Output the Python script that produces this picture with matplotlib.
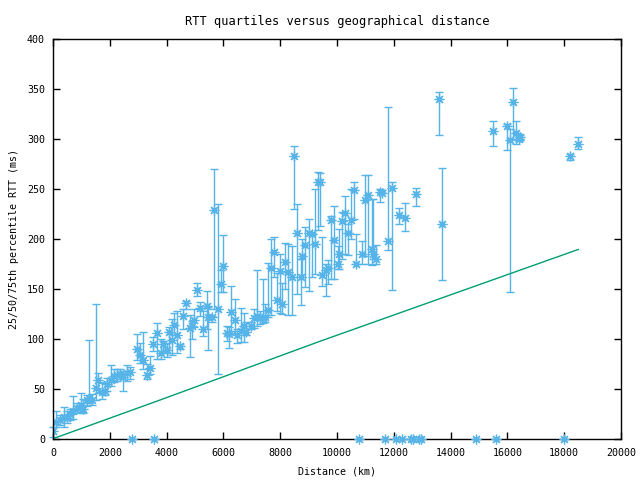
import matplotlib
matplotlib.use("Agg")
import matplotlib.pyplot as plt
import numpy as np

# distance (km), median RTT, 25th and 75th percentile RTT (ms)
dist = [0, 106, 246, 387, 493, 599, 715, 856, 975, 1067, 1187, 1278, 1384, 1503, 1595,
        1715, 1831, 1912, 2032, 2148, 2253, 2359, 2454, 2595, 2711, 2968, 3063, 3179, 3299,
        3415, 3510, 3672, 3792, 3884, 4003, 4095, 4179, 4260, 4377, 4472, 4567, 4683, 4824,
        4884, 4965, 5081, 5176, 5292, 5412, 5468, 5588, 5669, 5799, 5905, 5996, 6137, 6208,
        6257, 6408, 6468, 6609, 6725, 6785, 6961, 7077, 7193, 7288, 7405, 7465, 7581, 7676,
        7781, 7876, 7993, 8053, 8169, 8285, 8405, 8496, 8602, 8722, 8778, 8884, 9014, 9109,
        9225, 9341, 9412, 9482, 9602, 9693, 9788, 9905, 10024, 10081, 10186, 10281, 10398,
        10493, 10598, 10679, 10869, 10986, 11102, 11221, 11278, 11384, 11514, 11595, 11806,
        11947, 12193, 12394, 12781, 13602, 13707, 15503, 15996, 16091, 16207, 16302, 16408,
        16443, 18214, 18496]
rtt_med = [8, 17, 19, 22, 21, 25, 28, 31, 34, 30, 39, 41, 39, 51, 59,
           47, 48, 55, 59, 63, 64, 65, 62, 66, 67, 90, 84, 79, 64,
           71, 95, 106, 86, 95, 89, 107, 99, 114, 104, 93, 123, 136, 111,
           113, 119, 149, 131, 110, 133, 122, 122, 229, 130, 155, 173, 106, 105,
           127, 119, 104, 108, 113, 107, 113, 121, 123, 121, 121, 122, 129, 171,
           187, 139, 168, 135, 177, 167, 162, 283, 206, 162, 183, 194, 206, 205,
           195, 257, 257, 164, 169, 171, 219, 199, 175, 185, 218, 226, 206,
           219, 249, 175, 185, 239, 244, 190, 185, 180, 247, 246, 198,
           251, 224, 221, 245, 340, 215, 308, 313, 299, 337, 306, 300,
           302, 283, 295]
rtt_q25 = [2, 12, 14, 12, 16, 19, 20, 26, 27, 26, 33, 36, 34, 39, 46,
           40, 44, 48, 53, 57, 58, 60, 48, 58, 60, 79, 76, 70, 60,
           65, 88, 80, 80, 88, 82, 86, 84, 104, 86, 90, 110, 130, 82,
           100, 112, 143, 123, 103, 110, 89, 117, 130, 65, 147, 147, 98, 91,
           108, 106, 96, 97, 97, 104, 110, 111, 113, 115, 116, 117, 122, 124,
           162, 128, 126, 125, 150, 124, 124, 230, 145, 134, 162, 152, 148, 162,
           165, 209, 213, 153, 143, 155, 160, 160, 170, 170, 180, 185, 184,
           200, 220, 175, 175, 183, 175, 174, 180, 175, 237, 246, 189,
           149, 215, 208, 233, 304, 159, 293, 289, 147, 300, 295, 298,
           299, 279, 290]
rtt_q75 = [12, 28, 24, 32, 28, 30, 43, 36, 46, 40, 44, 99, 45, 135, 66,
           56, 57, 61, 74, 70, 70, 70, 68, 74, 72, 105, 96, 107, 75,
           83, 102, 116, 100, 98, 96, 112, 120, 126, 128, 95, 130, 138, 124,
           118, 130, 156, 137, 128, 148, 132, 123, 270, 235, 169, 204, 113, 112,
           153, 140, 110, 131, 126, 117, 117, 130, 169, 128, 160, 135, 176, 200,
           202, 166, 185, 156, 196, 195, 193, 293, 235, 180, 200, 212, 220, 206,
           250, 267, 266, 202, 175, 179, 223, 233, 193, 210, 227, 243, 215,
           250, 257, 205, 198, 264, 264, 240, 240, 194, 250, 249, 332,
           257, 231, 236, 251, 347, 271, 318, 315, 310, 351, 318, 305,
           304, 285, 302]

# pairs with no RTT measurement, drawn on the x axis
zero_dist = [2792, 3567, 10785, 11700, 12077, 12278, 12595, 12687, 12898, 12958,
             14895, 15598, 17992]

# lower bound from propagation delay
bound_dist = [0, 3767, 9400, 18496]
bound_rtt = [0, 38.7, 97.5, 189.4]

blue = '#56B4E9'
green = '#009E73'

plt.rcParams['font.family'] = ['DejaVu Sans Mono']
plt.rcParams['font.size'] = 7.2

fig = plt.figure(figsize=(6.4, 4.8), dpi=100)
ax = fig.add_axes([53 / 640, 1 - 438.7 / 480, 568 / 640, 399.7 / 480])

med = np.array(rtt_med)
yerr = [med - np.array(rtt_q25), np.array(rtt_q75) - med]
ax.errorbar(dist, rtt_med, yerr=yerr, fmt='none', ecolor=blue, elinewidth=1,
            capsize=3, capthick=1, clip_on=False)
ax.plot(dist, rtt_med, ls='none', marker=(8, 2, 0), ms=7, mew=0.9, color=blue)
ax.plot(zero_dist, [0] * len(zero_dist), ls='none', marker=(8, 2, 0), ms=7, mew=0.9,
        color=blue, clip_on=False, zorder=5)
ax.plot(bound_dist, bound_rtt, color=green, lw=1)

ax.set_xlim(0, 20000)
ax.set_ylim(0, 400)
ax.set_xticks(np.arange(0, 20001, 2000))
ax.set_yticks(np.arange(0, 401, 50))
ax.tick_params(direction='in', length=5, width=1, top=True, right=True)
ax.tick_params(axis='x', pad=6.5)
ax.tick_params(axis='y', pad=5.8)
for s in ax.spines.values():
    s.set_linewidth(1)

ax.set_title('RTT quartiles versus geographical distance', pad=10)
ax.set_xlabel('Distance (km)', labelpad=6)
ax.set_ylabel('25/50/75th percentile RTT (ms)', labelpad=6)

fig.savefig('out.png', dpi=100)
